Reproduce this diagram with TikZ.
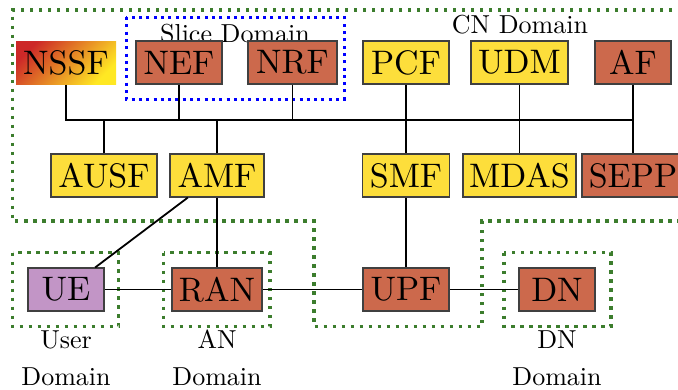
\documentclass[tikz,border=0pt]{standalone}
\usepackage{graphicx}
\definecolor{brick}{RGB}{204,105,76}
\definecolor{sun}{RGB}{253,222,59}
\definecolor{lilac}{RGB}{194,149,198}
\definecolor{dgreen}{RGB}{60,125,45}
\definecolor{nred}{RGB}{205,40,40}
\definecolor{nyel}{RGB}{255,232,35}
\newcommand{\boxtxt}[1]{\scalebox{3.4}{\fontsize{10}{12}\selectfont #1}}
\newcommand{\lbltxt}[1]{\scalebox{2.6}{\fontsize{10}{12}\selectfont #1}}
\tikzset{
  nf/.style={draw=black!75, line width=1.1pt, minimum height=43pt, inner sep=0pt},
  wd/.style={minimum width=#1pt},
  br/.style={nf, fill=brick},
  yl/.style={nf, fill=sun},
  conn/.style={line width=1.8pt},
  dom/.style={dgreen, line width=3.5pt, dash pattern=on 3.5pt off 5.5pt},
  slice/.style={blue, line width=3pt, dash pattern=on 3pt off 4.3pt},
  lbl/.style={inner sep=0pt, anchor=base},
}
\begin{document}
\begin{tikzpicture}[x=1pt,y=-1pt]
\useasboundingbox (0,0) rectangle (678,389);
\clip (0,0) rectangle (678,389);
% domains
\draw[dom] (690,10) -- (12.5,10) -- (12.5,221) -- (314,221) -- (314,326.5) -- (482,326.5) -- (482,221) -- (690,221);
\draw[dom] (12.5,252.5) rectangle (118.5,326.5);
\draw[dom] (163.5,252.5) rectangle (270,326.5);
\draw[dom] (504,252.5) rectangle (611,326.5);
\draw[slice] (126,17) rectangle (344,99);
\node[lbl] (slicelbl) at (235,42) {\lbltxt{Slice Domain}};
\node[lbl] (cnlbl) at (520,33) {\lbltxt{CN Domain}};
\node[lbl] (ul1) at (66,348) {\lbltxt{User}};
\node[lbl] (ul2) at (66,385) {\lbltxt{Domain}};
\node[lbl] (al1) at (217,348) {\lbltxt{AN}};
\node[lbl] (al2) at (217,385) {\lbltxt{Domain}};
\node[lbl] (dl1) at (557,348) {\lbltxt{DN}};
\node[lbl] (dl2) at (557,385) {\lbltxt{Domain}};
% nodes
\node[nf, wd=100, draw=none, top color=nred, bottom color=nyel, shading angle=45] (NSSF) at (66,62.5) {\boxtxt{NSSF}};
\node[br, wd=86] (NEF) at (179,62.5) {\boxtxt{NEF}};
\node[br, wd=89] (NRF) at (292.5,62.5) {\boxtxt{NRF}};
\node[yl, wd=86] (PCF) at (406,62.5) {\boxtxt{PCF}};
\node[yl, wd=97] (UDM) at (519.5,62.5) {\boxtxt{UDM}};
\node[br, wd=76] (AF) at (633,62.5) {\boxtxt{AF}};
\node[yl, wd=106] (AUSF) at (104,175.5) {\boxtxt{AUSF}};
\node[yl, wd=94] (AMF) at (217,175.5) {\boxtxt{AMF}};
\node[yl, wd=87] (SMF) at (406,175.5) {\boxtxt{SMF}};
\node[yl, wd=113] (MDAS) at (519.5,175.5) {\boxtxt{MDAS}};
\node[br, wd=102] (SEPP) at (633,175.5) {\boxtxt{SEPP}};
\node[nf, wd=76, fill=lilac] (UE) at (66,289.5) {\boxtxt{UE}};
\node[br, wd=90] (RAN) at (217,289.5) {\boxtxt{RAN}};
\node[br, wd=86] (UPF) at (406,289.5) {\boxtxt{UPF}};
\node[br, wd=76] (DN) at (557,289.5) {\boxtxt{DN}};
\coordinate (busL) at (66,120);
\coordinate (busR) at (633,120);
% connectors
\draw[conn] (NSSF.south) |- (busR);
\draw[conn] (NEF.south) -- (NEF.south |- busL);
\draw[conn] (NRF.south) -- (NRF.south |- busL);
\draw[conn] (PCF.south) -- (SMF.north);
\draw[conn] (UDM.south) -- (MDAS.north);
\draw[conn] (AF.south) -- (SEPP.north);
\draw[conn] (AUSF.north) -- (AUSF.north |- busL);
\draw[conn] (AMF.north) -- (AMF.north |- busL);
\draw[conn] (UE) -- (AMF);
\draw[conn] (AMF.south) -- (RAN.north);
\draw[conn] (SMF.south) -- (UPF.north);
\draw[conn] (UE) -- (RAN);
\draw[conn] (RAN) -- (UPF);
\draw[conn] (UPF) -- (DN);
\end{tikzpicture}
\end{document}
